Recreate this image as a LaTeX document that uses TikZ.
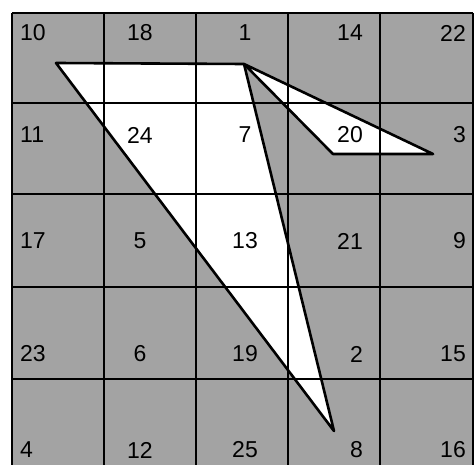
\documentclass[tikz,border=0pt]{standalone}
\usepackage{fontspec}
\setmainfont{Liberation Sans}
\tikzset{
  board/.style={fill=black!36},
  hole/.style={fill=white},
  gridline/.style={line width=1.8pt},
  edge/.style={line width=2.6pt, line join=round},
  num/.style={inner sep=0pt, font=\fontsize{23}{23}\selectfont}
}
\begin{document}
\begin{tikzpicture}[x=1pt, y=-1pt]
  \useasboundingbox (0,0) rectangle (476,465);
  \fill[board] (12,13) rectangle (473,465);
  % corners of the two white cut-outs
  \coordinate (tl)   at (56,63);
  \coordinate (apex) at (244,64);
  \coordinate (tip)  at (334,431);
  \coordinate (sl)   at (333,154);
  \coordinate (sr)   at (433,154);
  \fill[hole] (tl) -- (apex) -- (tip) -- cycle;
  \fill[hole] (apex) -- (sr) -- (sl) -- cycle;
  % grid
  \foreach \x in {12,104,196,288,380,473}
    \draw[gridline] (\x,13) -- (\x,465);
  \foreach \y in {13,103,194,287,379}
    \draw[gridline] (12,\y) -- (473,\y);
  \draw[edge] (tl) -- (apex) -- (tip) -- cycle;
  \draw[edge] (apex) -- (sr) -- (sl) -- cycle;
  % cell numbers, one row per entry
  \foreach \y/\a/\b/\c/\d/\e in {33/10/18/1/14/22, 135/11/24/7/20/3,
      241/17/5/13/21/9, 354/23/6/19/2/15, 450/4/12/25/8/16} {
    \node[num, anchor=west] (n\a) at (20,\y)  {\a};
    \node[num]              (n\b) at (140,\y) {\b};
    \node[num]              (n\c) at (245,\y) {\c};
    \node[num, anchor=east] (n\d) at (363,\y) {\d};
    \node[num, anchor=east] (n\e) at (466,\y) {\e};
  }
\end{tikzpicture}
\end{document}
